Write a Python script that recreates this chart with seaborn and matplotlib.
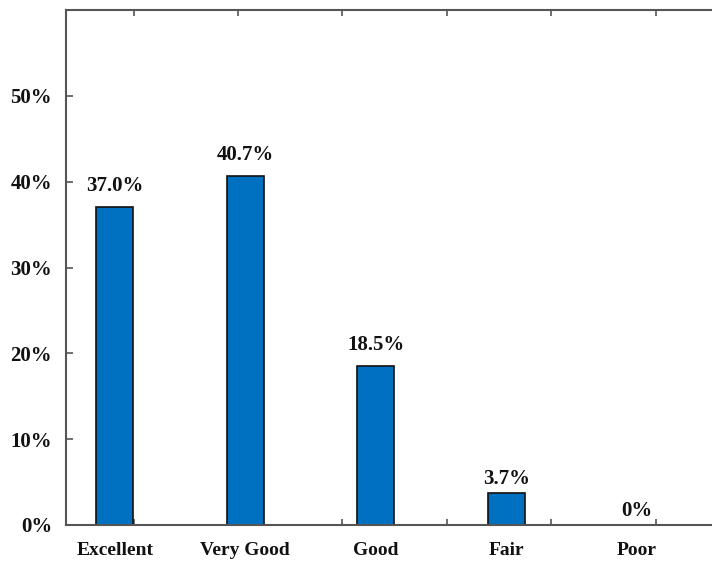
import numpy as np
import pandas as pd
import matplotlib
matplotlib.use("Agg")
import matplotlib.pyplot as plt
import seaborn as sns

categories = ["Excellent", "Very Good", "Good", "Fair", "Poor"]
percentages = [37.0, 40.7, 18.5, 3.7, 0.0]
bar_labels = ["37.0%", "40.7%", "18.5%", "3.7%", "0%"]
y_ticks = [0, 10, 20, 30, 40, 50]

df = pd.DataFrame({"Rating": categories, "Percent": percentages})

sns.set_style("white")
plt.rcParams["font.family"] = ["Liberation Serif", "DejaVu Serif"]
plt.rcParams["font.weight"] = "bold"

fig = plt.figure(figsize=(7.12, 5.63), dpi=100)
ax = fig.add_axes([0.0927, 0.0675, 0.9073, 0.9147])

sns.barplot(data=df, x="Rating", y="Percent", ax=ax, width=0.285,
            color="#0070C0", edgecolor="#111111", linewidth=1.2, saturation=1)

# the short bars sit a bit closer to their labels in the original
tall = [lab if p > 10 else "" for lab, p in zip(bar_labels, percentages)]
short = [lab if p <= 10 else "" for lab, p in zip(bar_labels, percentages)]
ax.bar_label(ax.containers[0], labels=tall, padding=8,
             fontsize=15, fontweight="bold", color="#111111")
ax.bar_label(ax.containers[0], labels=short, padding=3,
             fontsize=15, fontweight="bold", color="#111111")

ax.set_xlim(-0.373, 4.577)
ax.set_ylim(0, 60)
ax.set_yticks(y_ticks)
ax.set_yticklabels([f"{t}%" for t in y_ticks], fontsize=15, fontweight="bold", color="#111111")
ax.set_xticks(range(len(categories)))
ax.set_xticklabels(categories, fontsize=14, fontweight="bold", color="#111111")
ax.set_xlabel("")
ax.set_ylabel("")

# short inward ticks like the original
ax.tick_params(axis="y", direction="in", length=5, width=1.2, color="#555555", pad=10, left=True)
ax.tick_params(axis="x", which="major", length=0, pad=12)
ax.set_xticks(0.145 + 0.8 * np.arange(6), minor=True)
ax.tick_params(axis="x", which="minor", direction="in", length=4, width=1.2,
               color="#555555", top=True, bottom=True)

for side in ["left", "top", "bottom"]:
    ax.spines[side].set_color("#555555")
    ax.spines[side].set_linewidth(1.5)
ax.spines["right"].set_visible(False)

plt.savefig("out.png", dpi=100)
